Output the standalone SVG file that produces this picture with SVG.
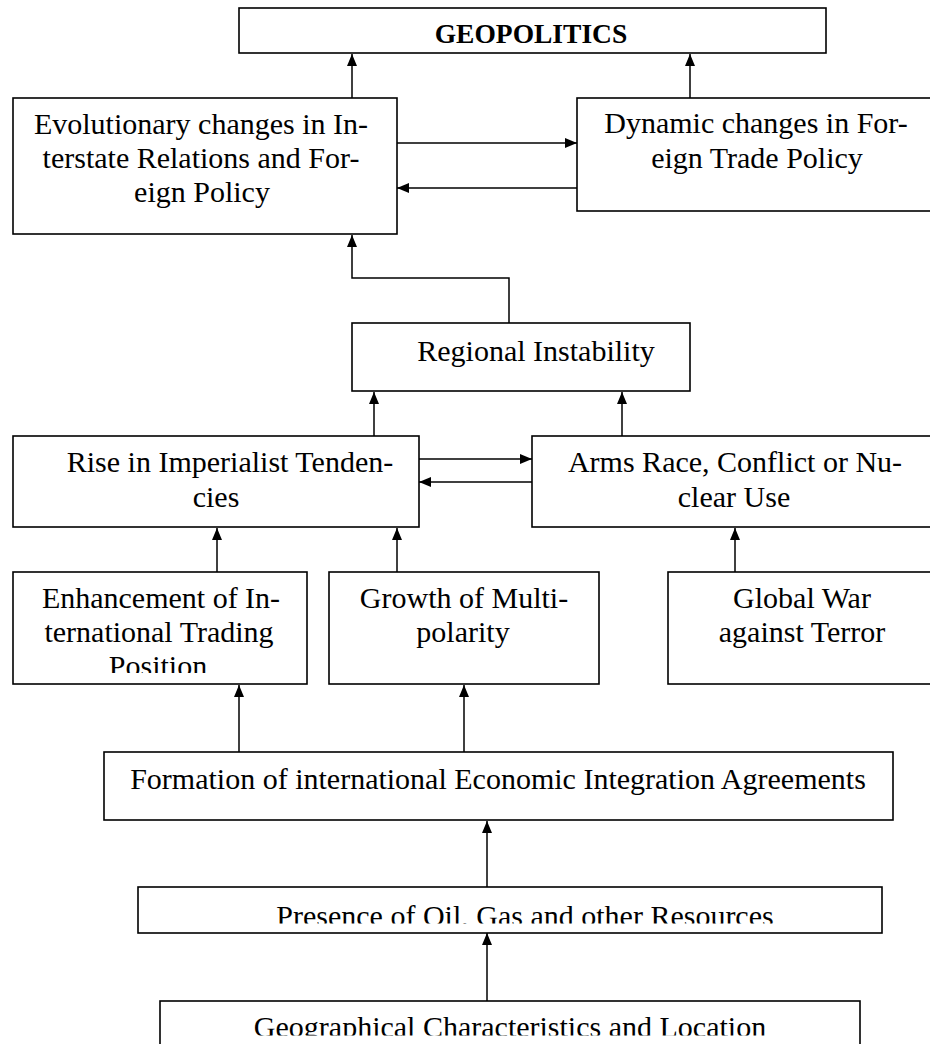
<svg xmlns="http://www.w3.org/2000/svg" width="930" height="1044" viewBox="0 0 930 1044">
<style>
.box{fill:#fff;stroke:#000;stroke-width:1.6}
.t{font-family:"Liberation Serif","Times New Roman",serif;font-size:30px;fill:#000;text-anchor:middle}
.b{font-weight:bold;font-size:27.5px}
.c{fill:none;stroke:#000;stroke-width:1.5}
</style>
<defs>
<marker id="ah" viewBox="0 0 12 10" refX="12" refY="5" markerWidth="12" markerHeight="10" markerUnits="userSpaceOnUse" orient="auto">
<path d="M0,0 L12,5 L0,10 z" fill="#000"/>
</marker>
<clipPath id="cpPos"><rect x="0" y="560" width="320" height="113"/></clipPath>
<clipPath id="cpPres"><rect x="130" y="880" width="760" height="43.5"/></clipPath>
<clipPath id="cpGeo"><rect x="150" y="995" width="720" height="40.5"/></clipPath>
</defs>
<rect width="930" height="1044" fill="#fff"/>

<g id="connectors">
<line class="c" x1="352" y1="98" x2="352" y2="54" marker-end="url(#ah)"/>
<line class="c" x1="690" y1="98" x2="690" y2="54" marker-end="url(#ah)"/>
<line class="c" x1="397" y1="143" x2="577" y2="143" marker-end="url(#ah)"/>
<line class="c" x1="577" y1="188" x2="397" y2="188" marker-end="url(#ah)"/>
<polyline class="c" points="509,323 509,278 352,278 352,235" marker-end="url(#ah)"/>
<line class="c" x1="374" y1="436" x2="374" y2="392" marker-end="url(#ah)"/>
<line class="c" x1="622" y1="436" x2="622" y2="392" marker-end="url(#ah)"/>
<line class="c" x1="419" y1="459" x2="532" y2="459" marker-end="url(#ah)"/>
<line class="c" x1="532" y1="482" x2="419" y2="482" marker-end="url(#ah)"/>
<line class="c" x1="217" y1="572" x2="217" y2="528" marker-end="url(#ah)"/>
<line class="c" x1="397" y1="572" x2="397" y2="528" marker-end="url(#ah)"/>
<line class="c" x1="735" y1="572" x2="735" y2="528" marker-end="url(#ah)"/>
<line class="c" x1="239" y1="752" x2="239" y2="685" marker-end="url(#ah)"/>
<line class="c" x1="464" y1="752" x2="464" y2="685" marker-end="url(#ah)"/>
<line class="c" x1="487" y1="887" x2="487" y2="821" marker-end="url(#ah)"/>
<line class="c" x1="487" y1="1001" x2="487" y2="933" marker-end="url(#ah)"/>
</g>

<g id="geopolitics">
<rect class="box" x="239" y="8" width="587" height="45"/>
<text class="t b" x="531" y="43">GEOPOLITICS</text>
</g>

<g id="evolutionary">
<rect class="box" x="13" y="98" width="384" height="136"/>
<text class="t" x="201" y="134">Evolutionary changes in In-</text>
<text class="t" x="201" y="168">terstate Relations and For-</text>
<text class="t" x="202" y="202">eign Policy</text>
</g>

<g id="dynamic">
<rect class="box" x="577" y="98" width="370" height="113"/>
<text class="t" x="756" y="133">Dynamic changes in For-</text>
<text class="t" x="757" y="168">eign Trade Policy</text>
</g>

<g id="regional">
<rect class="box" x="352" y="323" width="338" height="68"/>
<text class="t" x="536" y="361">Regional Instability</text>
</g>

<g id="imperialist">
<rect class="box" x="13" y="436" width="406" height="91"/>
<text class="t" x="230" y="472">Rise in Imperialist Tenden-</text>
<text class="t" x="216" y="507">cies</text>
</g>

<g id="arms">
<rect class="box" x="532" y="436" width="415" height="91"/>
<text class="t" x="735" y="472">Arms Race, Conflict or Nu-</text>
<text class="t" x="734" y="507">clear Use</text>
</g>

<g id="enhancement">
<rect class="box" x="13" y="572" width="294" height="112"/>
<text class="t" x="161" y="608">Enhancement of In-</text>
<text class="t" x="159" y="642">ternational Trading</text>
<text class="t" x="158" y="676" clip-path="url(#cpPos)">Position</text>
</g>

<g id="multipolarity">
<rect class="box" x="329" y="572" width="270" height="112"/>
<text class="t" x="464" y="608">Growth of Multi-</text>
<text class="t" x="463" y="642">polarity</text>
</g>

<g id="terror">
<rect class="box" x="668" y="572" width="279" height="112"/>
<text class="t" x="802" y="608">Global War</text>
<text class="t" x="802" y="642">against Terror</text>
</g>

<g id="formation">
<rect class="box" x="104" y="752" width="789" height="68"/>
<text class="t" x="498" y="789">Formation of international Economic Integration Agreements</text>
</g>

<g id="resources">
<rect class="box" x="138" y="887" width="744" height="46"/>
<text class="t" x="525" y="925.5" clip-path="url(#cpPres)">Presence of Oil, Gas and other Resources</text>
</g>

<g id="geography">
<rect class="box" x="160" y="1001" width="700" height="60"/>
<text class="t" x="510" y="1037" clip-path="url(#cpGeo)">Geographical Characteristics and Location</text>
</g>
</svg>
